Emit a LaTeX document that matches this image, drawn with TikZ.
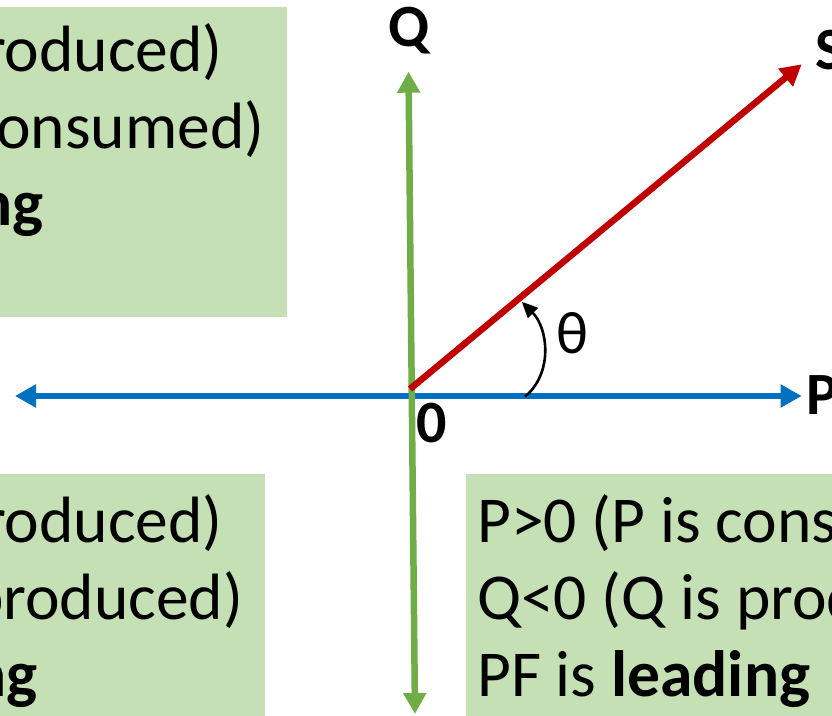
\documentclass[tikz,border=0pt]{standalone}
\usepackage{fontspec}
\setmainfont{Carlito}
\usetikzlibrary{arrows.meta}
\definecolor{boxgreen}{HTML}{C5E0B4}
\definecolor{axisblue}{HTML}{0070C0}
\definecolor{axisgreen}{HTML}{70AD47}
\definecolor{phasorred}{HTML}{C00000}
\begin{document}
\begin{tikzpicture}[x=1pt, y=1pt, every node/.style={inner sep=0pt},
  axis/.style={line width=6.5pt, {Triangle[length=21pt,width=22pt]}-{Triangle[length=21pt,width=22pt]}},
  quadbox/.style={fill=boxgreen},
  quadtext/.style={font=\fontsize{65.5}{77}\selectfont, align=left, anchor=base west},
  axlabel/.style={font=\fontsize{60}{72}\selectfont\bfseries}]
\useasboundingbox (0,0) rectangle (832,715);
\clip (0,0) rectangle (832,715);
% quadrant boxes (base anchor sits on the last line)
\fill[quadbox] (-301,708) rectangle (287,398);
\fill[quadbox] (-301,241) rectangle (265,-80);
\fill[quadbox] (466,241) rectangle (1000,-80);
\node[quadtext] (tl) at (-290,489) {P<0 (P is produced)\\Q>0 (Q is consumed)\\PF is \textbf{leading}};
\node[quadtext] (bl) at (-290,19) {P<0 (P is produced)\\Q<0 (Q is produced)\\PF is \textbf{lagging}};
\node[quadtext] (br) at (477,19) {P>0 (P is consumed)\\Q<0 (Q is produced)\\PF is \textbf{leading}};
% axes and phasor
\coordinate (o) at (410,326);
\coordinate (pl) at (15,319);
\coordinate (pr) at (801.7,319);
\coordinate (qt) at (408.5,643.3);
\coordinate (qb) at (415,1);
\coordinate (s) at (801.7,650.7);
\draw[axis, axisblue] (pl) -- (pr);
\draw[axis, axisgreen] (qt) -- (qb);
\draw[line width=6.5pt, phasorred, -{Triangle[length=21pt,width=22pt]}] (o) -- (s);
\node[axlabel, anchor=base] (qlab) at (409,668) {Q};
\node[axlabel, anchor=base west] (slab) at (815,645) {S};
\node[axlabel, anchor=base west] (plab) at (806,300) {P};
\node[axlabel, anchor=base] (zero) at (432,272) {0};
% angle
\coordinate (t1) at (525,318.3);
\coordinate (t2) at (521.7,413.3);
\draw[line width=2.6pt, -{Triangle[length=16pt,width=14pt]}] (t1) to[out=40, in=-45] (t2);
\node[font=\fontsize{60}{72}\selectfont] (theta) at (572.5,381.5) {θ};
\end{tikzpicture}
\end{document}
